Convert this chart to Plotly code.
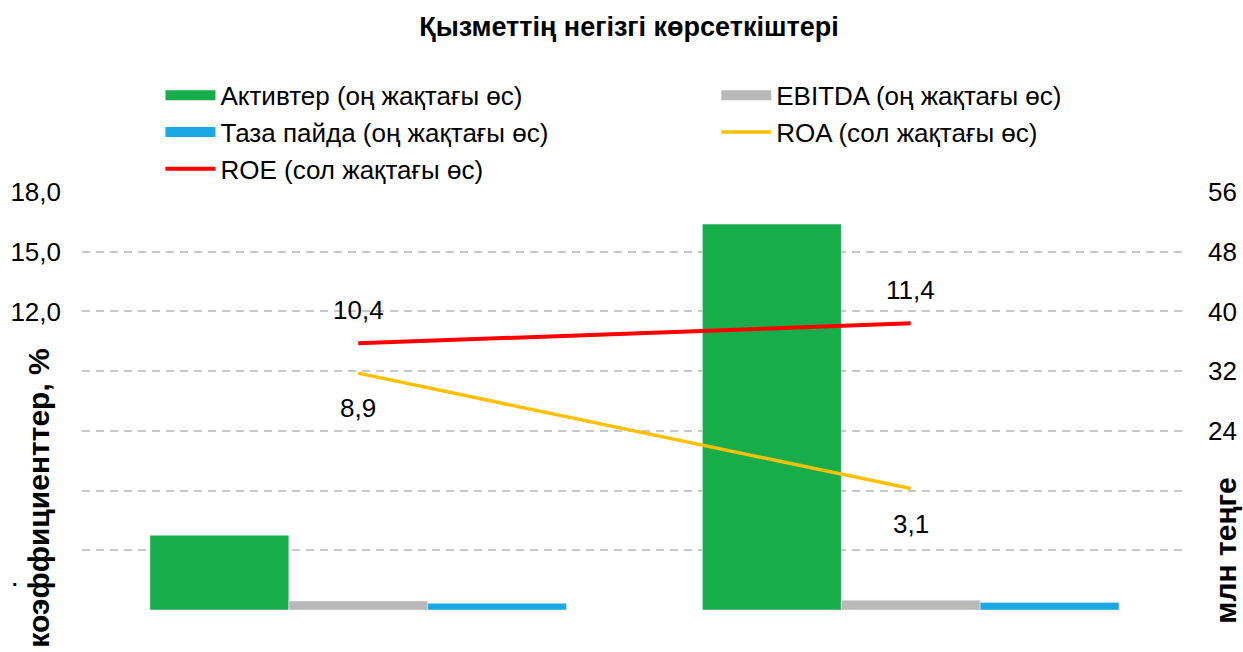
import plotly.graph_objects as go

# categories (x labels are not visible in the source picture)
categories = ["2022 ж.", "2023 ж."]

# bars, right axis (млн теңге)
assets = [10.0, 51.7]
ebitda = [1.2, 1.3]
net_profit = [0.9, 1.0]

# lines, left axis (%)
roa = [8.9, 3.1]
roe = [10.4, 11.4]

left_ticks = [-3, 0, 3, 6, 9, 12, 15, 18]
left_labels = ["", "", "", "", "", "12,0", "15,0", "18,0"]
right_ticks = [0, 8, 16, 24, 32, 40, 48, 56]
right_labels = ["", "", "", "24", "32", "40", "48", "56"]

FONT = "Liberation Sans, Arial, sans-serif"

fig = go.Figure()

bar_specs = [
    ("Активтер (оң жақтағы өс)", assets, "#17AD4A", "legend"),
    ("EBITDA (оң жақтағы өс)", ebitda, "#B8B8B8", "legend2"),
    ("Таза пайда (оң жақтағы өс)", net_profit, "#1CA8E4", "legend"),
]
for name, vals, col, leg in bar_specs:
    fig.add_trace(go.Bar(x=categories, y=vals, name=name, marker_color=col,
                         yaxis="y", showlegend=False, legendgroup=name))
    # legend swatch as a thick line
    fig.add_trace(go.Scatter(x=[None], y=[None], mode="lines", name=name,
                             line=dict(color=col, width=10), legend=leg,
                             legendgroup=name, hoverinfo="skip"))

fig.add_trace(go.Scatter(x=categories, y=roa, mode="lines", name="ROA (сол жақтағы өс)",
                         line=dict(color="#FFC000", width=3.5), yaxis="y2", legend="legend2"))
fig.add_trace(go.Scatter(x=categories, y=roe, mode="lines", name="ROE (сол жақтағы өс)",
                         line=dict(color="#FF0000", width=4), yaxis="y2", legend="legend"))

# data labels
for c, v in zip(categories, roe):
    fig.add_annotation(x=c, y=v, yref="y2", text=f"{v:.1f}".replace(".", ","),
                       showarrow=False, yshift=33, font=dict(size=26, color="black"))
for c, v in zip(categories, roa):
    fig.add_annotation(x=c, y=v, yref="y2", text=f"{v:.1f}".replace(".", ","),
                       showarrow=False, yshift=-35, font=dict(size=26, color="black"))

# axis titles
fig.add_annotation(x=-0.039, xref="paper", y=0.632, yref="paper", xanchor="center",
                   yanchor="top", text="<b>коэффициенттер, %</b>", textangle=-90,
                   showarrow=False, font=dict(size=30, color="black"))
fig.add_annotation(x=-0.061, xref="paper", y=0.075, yref="paper", xanchor="center",
                   yanchor="middle", text="<b>.</b>", showarrow=False,
                   font=dict(size=20, color="black"))
fig.add_annotation(x=1.034, xref="paper", y=0.141, yref="paper", xanchor="center",
                   yanchor="middle", text="<b>млн теңге</b>", textangle=-90,
                   showarrow=False, font=dict(size=30, color="black"))

fig.update_layout(
    width=1243, height=652,
    margin=dict(l=82, r=56, t=192, b=42, autoexpand=False),
    paper_bgcolor="white", plot_bgcolor="white",
    font=dict(family=FONT, size=26, color="black"),
    title=dict(text="<b>Қызметтің негізгі көрсеткіштері</b>", x=0.506, xanchor="center",
               y=0.959, yanchor="middle", font=dict(size=27, color="black")),
    barmode="group", bargap=0.246, bargroupgap=0,
    xaxis=dict(type="category", showticklabels=False, showgrid=False, zeroline=False,
               showline=False),
    yaxis=dict(side="right", range=[0, 56], tickvals=right_ticks, ticktext=right_labels,
               showgrid=True, gridcolor="#C8C8C8", griddash="8px,6px", gridwidth=1.5,
               zeroline=False, ticklabelstandoff=20, tickfont=dict(size=26),
               automargin=False),
    yaxis2=dict(side="left", overlaying="y", range=[-3, 18], tickvals=left_ticks,
                ticktext=left_labels, showgrid=False, zeroline=False,
                ticklabelstandoff=20, tickfont=dict(size=26), automargin=False),
    legend=dict(x=0.071, y=1.2874, xanchor="left", yanchor="top", orientation="v",
                itemwidth=50, font=dict(size=26), bgcolor="rgba(0,0,0,0)",
                traceorder="normal"),
    legend2=dict(x=0.574, y=1.2874, xanchor="left", yanchor="top", orientation="v",
                 itemwidth=50, font=dict(size=26), bgcolor="rgba(0,0,0,0)",
                 traceorder="normal"),
)

fig.write_html("out.html", config={"displayModeBar": False},
               post_script="document.body.style.margin='0';")
